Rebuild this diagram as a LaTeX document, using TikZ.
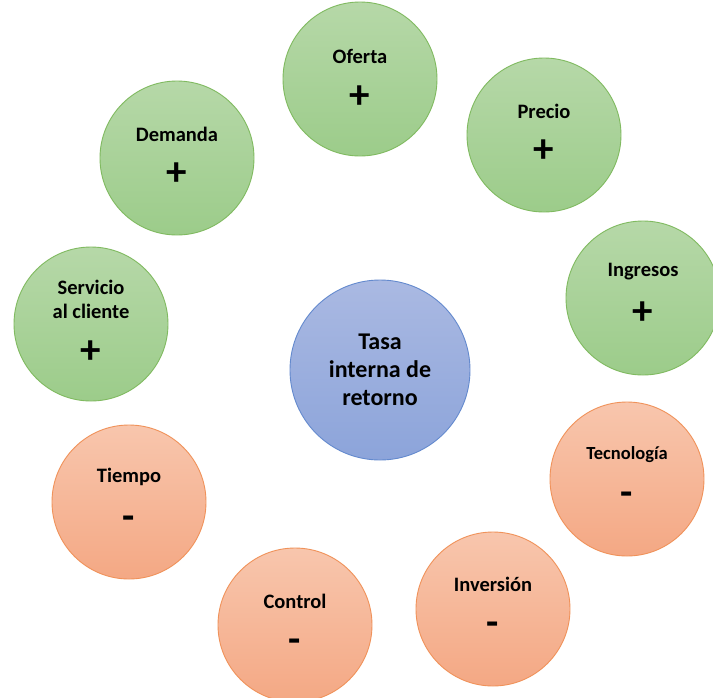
\documentclass[tikz,border=0pt]{standalone}
\usepackage{fontspec}
\setmainfont{Carlito}
\begin{document}
\begin{tikzpicture}[x=1pt,y=-1pt,
  bub/.style={circle, minimum size=154pt, inner sep=0pt, line width=0.9pt},
  grn/.style={bub, draw=grnline, top color=grntop, bottom color=grnbot},
  org/.style={bub, draw=orgline, top color=orgtop, bottom color=orgbot},
  blu/.style={bub, minimum size=180pt, draw=bluline, top color=blutop, bottom color=blubot},
  lbl/.style={font=\bfseries\fontsize{20.5}{24}\selectfont, align=center, inner sep=0pt},
  sgn/.style={font=\bfseries\fontsize{41}{41}\selectfont, inner sep=0pt},
  mns/.style={font=\bfseries\fontsize{40}{40}\selectfont, inner sep=0pt},
  big/.style={font=\bfseries\fontsize{24}{28}\selectfont, align=center, inner sep=0pt}]
\definecolor{grntop}{RGB}{182,216,168}
\definecolor{grnbot}{RGB}{156,204,138}
\definecolor{grnline}{RGB}{128,186,96}
\definecolor{orgtop}{RGB}{248,198,173}
\definecolor{orgbot}{RGB}{244,168,132}
\definecolor{orgline}{RGB}{240,146,90}
\definecolor{blutop}{RGB}{170,185,226}
\definecolor{blubot}{RGB}{140,164,218}
\definecolor{bluline}{RGB}{100,138,206}
\useasboundingbox (0,0) rectangle (713,697);
\clip (0,0) rectangle (713,697);
\fill[white] (0,0) rectangle (713,697);
% circles
\node[grn] (oferta) at (360,79) {};
\node[grn] (precio) at (544,135) {};
\node[grn] (demanda) at (177,158) {};
\node[grn] (ingresos) at (643,298) {};
\node[grn] (servicio) at (91,324) {};
\node[blu] (tir) at (380,370) {};
\node[org] (tecno) at (627,479) {};
\node[org] (tiempo) at (129,502) {};
\node[org] (inversion) at (493,609) {};
\node[org] (control) at (295,625) {};
% labels
\node[lbl] (oferta-t) at ([yshift=23pt]oferta.center) {Oferta};
\node[sgn] (oferta-s) at ([yshift=-18pt]oferta.center) {+};
\node[lbl] (precio-t) at ([yshift=24pt]precio.center) {Precio};
\node[sgn] (precio-s) at ([yshift=-16pt]precio.center) {+};
\node[lbl] (demanda-t) at ([yshift=24pt]demanda.center) {Demanda};
\node[sgn] (demanda-s) at ([yshift=-16pt]demanda.center) {+};
\node[lbl] (ingresos-t) at ([yshift=26pt]ingresos.center) {Ingresos};
\node[sgn] (ingresos-s) at ([yshift=-15pt]ingresos.center) {+};
\node[lbl] (servicio-t) at ([yshift=25pt]servicio.center) {Servicio\\al cliente};
\node[sgn] (servicio-s) at ([yshift=-28pt]servicio.center) {+};
\node[big] (tir-t) at (tir.center) {Tasa\\interna de\\retorno};
\node[lbl, font=\bfseries\fontsize{18.5}{22}\selectfont] (tecno-t) at ([yshift=24pt]tecno.center) {Tecnología};
\node[mns] (tecno-s) at ([yshift=-20pt]tecno.center) {-};
\node[lbl] (tiempo-t) at ([yshift=25pt]tiempo.center) {Tiempo};
\node[mns] (tiempo-s) at ([yshift=-21pt]tiempo.center) {-};
\node[lbl] (inversion-t) at ([yshift=25pt]inversion.center) {Inversión};
\node[mns] (inversion-s) at ([yshift=-20pt]inversion.center) {-};
\node[lbl] (control-t) at ([yshift=24pt]control.center) {Control};
\node[mns] (control-s) at ([yshift=-21pt]control.center) {-};
\end{tikzpicture}
\end{document}
